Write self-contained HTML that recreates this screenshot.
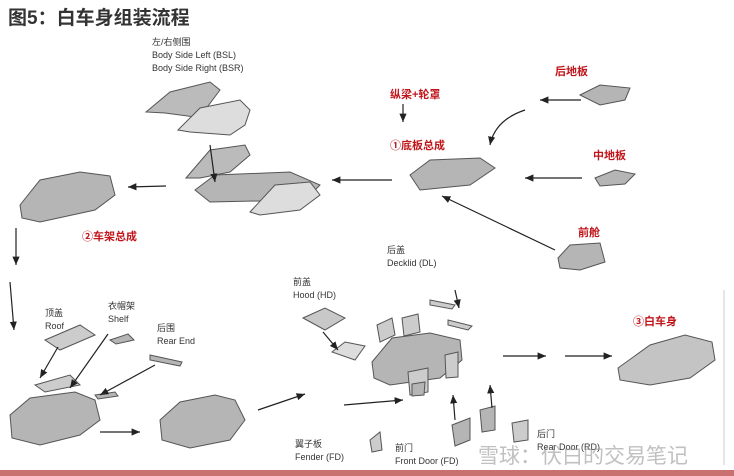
<!DOCTYPE html>
<html><head><meta charset="utf-8"><style>
html,body{margin:0;padding:0;background:#fff;width:734px;height:476px;overflow:hidden;position:relative;font-family:"Liberation Sans","Noto Sans CJK SC",sans-serif}
.t{position:absolute;font-size:9px;color:#333;line-height:13px;white-space:nowrap}
.r{position:absolute;font-size:11px;color:#c0161b;font-weight:bold;white-space:nowrap}
</style></head><body>
<div style="position:absolute;left:8px;top:3px;font-size:19px;font-weight:bold;color:#333">图5：白车身组装流程</div>
<svg width="734" height="476" style="position:absolute;left:0;top:0">
<defs><marker id="a" markerWidth="8" markerHeight="8" refX="7" refY="4" orient="auto"><path d="M0,1 L7,4 L0,7z" fill="#222"/></marker></defs>
<g fill="#b5b5b5" stroke="#555" stroke-width="1">
<!-- side panels -->
<path d="M146,112 L170,92 L210,82 L220,90 L205,110 L195,117 L165,113z" fill="#bbb"/>
<path d="M178,130 L200,108 L240,100 L250,110 L245,125 L230,135 L190,132z" fill="#ddd"/>
<path d="M186,178 L210,150 L245,145 L250,155 L230,172 L200,178z" fill="#bbb"/>
<path d="M195,190 L215,175 L290,172 L320,185 L305,200 L210,202z"/>
<path d="M250,212 L275,185 L310,182 L320,195 L300,210 L260,215z" fill="#ddd"/>
<!-- frame assembly -->
<path d="M20,205 L40,180 L80,172 L110,176 L115,195 L95,210 L40,222 L22,218z"/>
<!-- underbody -->
<path d="M410,175 L430,160 L480,158 L495,168 L470,185 L420,190z"/>
<path d="M580,95 L600,85 L630,88 L625,100 L600,105z"/>
<path d="M595,178 L615,170 L635,174 L625,184 L600,186z"/>
<path d="M558,258 L570,245 L600,243 L605,262 L580,270 L560,268z"/>
<!-- roof parts -->
<path d="M45,340 L80,325 L95,335 L60,350z" fill="#ccc"/>
<path d="M110,340 L128,334 L134,340 L116,344z"/>
<path d="M150,355 L182,362 L180,366 L150,360z"/>
<path d="M35,385 L70,375 L80,385 L45,392z" fill="#ccc"/>
<path d="M95,395 L115,392 L118,396 L98,399z"/>
<path d="M10,415 L30,398 L75,392 L95,400 L100,420 L80,435 L40,445 L12,438z"/>
<!-- body w/o closures -->
<path d="M160,420 L180,402 L215,395 L235,400 L245,420 L230,440 L190,448 L162,440z"/>
<!-- hood, fenders, doors -->
<path d="M303,318 L325,308 L345,318 L325,330z" fill="#c8c8c8"/>
<path d="M332,352 L345,342 L365,346 L355,360z" fill="#ddd"/>
<path d="M372,362 L392,338 L430,333 L460,340 L462,360 L440,378 L390,385 L374,378z"/>
<path d="M377,325 L392,318 L395,335 L380,342z" fill="#ccc"/>
<path d="M402,318 L418,314 L420,332 L404,336z" fill="#ccc"/>
<path d="M430,300 L455,305 L452,309 L430,305z" fill="#ccc"/>
<path d="M448,320 L472,326 L468,330 L448,325z" fill="#ccc"/>
<path d="M408,372 L428,368 L428,392 L410,395z" fill="#ccc"/>
<path d="M445,355 L458,352 L458,377 L446,378z" fill="#ccc"/>
<path d="M412,384 L425,382 L424,395 L412,396z"/>
<path d="M452,425 L470,418 L470,440 L455,446z"/>
<path d="M480,410 L495,406 L495,430 L482,432z"/>
<path d="M512,423 L528,420 L528,440 L514,442z" fill="#ccc"/>
<path d="M370,440 L380,432 L382,450 L372,452z" fill="#ccc"/>
<!-- final body -->
<path d="M618,368 L650,345 L685,335 L712,342 L715,360 L690,378 L650,385 L620,380z" fill="#c4c4c4"/>
</g>
<g stroke="#222" stroke-width="1.2" fill="none" marker-end="url(#a)">
<line x1="581" y1="100" x2="540" y2="100"/>
<line x1="403" y1="104" x2="403" y2="122"/>
<path d="M525,110 Q495,120 490,145"/>
<line x1="582" y1="178" x2="525" y2="178"/>
<line x1="555" y1="250" x2="442" y2="196"/>
<line x1="210" y1="145" x2="215" y2="182"/>
<line x1="392" y1="180" x2="332" y2="180"/>
<line x1="166" y1="186" x2="128" y2="187"/>
<line x1="16" y1="228" x2="16" y2="265"/>
<line x1="10" y1="282" x2="14" y2="330"/>
<line x1="58" y1="347" x2="40" y2="378"/>
<line x1="108" y1="334" x2="70" y2="388"/>
<line x1="155" y1="365" x2="100" y2="395"/>
<line x1="100" y1="432" x2="140" y2="432"/>
<line x1="258" y1="410" x2="305" y2="394"/>
<line x1="323" y1="332" x2="338" y2="350"/>
<line x1="455" y1="290" x2="459" y2="308"/>
<line x1="344" y1="405" x2="403" y2="400"/>
<line x1="455" y1="420" x2="453" y2="395"/>
<line x1="492" y1="408" x2="490" y2="385"/>
<line x1="503" y1="356" x2="546" y2="356"/>
<line x1="565" y1="356" x2="612" y2="356"/>
</g>
<line x1="724" y1="290" x2="724" y2="465" stroke="#ccc"/>
<rect x="0" y="470" width="734" height="6" fill="#c97070"/>
</svg>
<div class="t" style="left:152px;top:36px">左/右侧围<br>Body Side Left (BSL)<br>Body Side Right (BSR)</div>
<div class="r" style="left:390px;top:86px">纵梁+轮罩</div>
<div class="r" style="left:390px;top:137px">①底板总成</div>
<div class="r" style="left:555px;top:63px">后地板</div>
<div class="r" style="left:593px;top:147px">中地板</div>
<div class="r" style="left:578px;top:224px">前舱</div>
<div class="r" style="left:82px;top:228px">②车架总成</div>
<div class="t" style="left:45px;top:307px">顶盖<br>Roof</div>
<div class="t" style="left:108px;top:300px">衣帽架<br>Shelf</div>
<div class="t" style="left:157px;top:322px">后围<br>Rear End</div>
<div class="t" style="left:293px;top:276px">前盖<br>Hood (HD)</div>
<div class="t" style="left:387px;top:244px">后盖<br>Decklid (DL)</div>
<div class="r" style="left:633px;top:313px">③白车身</div>
<div class="t" style="left:295px;top:438px">翼子板<br>Fender (FD)</div>
<div class="t" style="left:395px;top:442px">前门<br>Front Door (FD)</div>
<div class="t" style="left:537px;top:428px">后门<br>Rear Door (RD)</div>
<div style="position:absolute;left:478px;top:440px;font-size:21px;color:rgba(150,150,150,0.6);white-space:nowrap">雪球：伏白的交易笔记</div>
</body></html>
